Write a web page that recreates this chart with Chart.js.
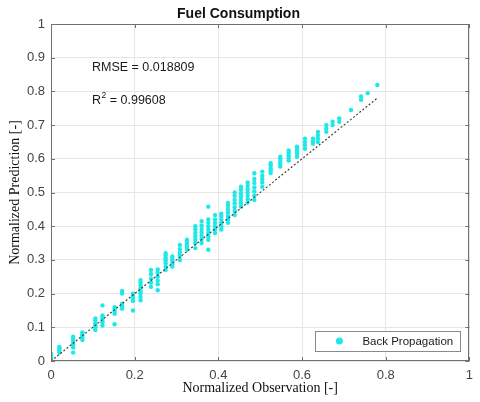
<!DOCTYPE html>
<html><head><meta charset="utf-8">
<script src="https://cdn.jsdelivr.net/npm/chart.js@4.4.0/dist/chart.umd.min.js"></script>
<style>html,body{margin:0;padding:0;background:#fff}#wrap{width:480px;height:402px;position:relative}</style>
</head><body><div id="wrap"><canvas id="c"></canvas></div>
<script>
const chartTitle = 'Fuel Consumption';
const xLabel = 'Normalized Observation [-]';
const yLabel = 'Normalized Prediction [-]';
const seriesName = 'Back Propagation';
const rmseText = 'RMSE = 0.018809';
const r2Value = '0.99608';

// observation columns (x) and predictions in each column (y)
const observed = [0.000,0.020,0.053,0.075,0.106,0.123,0.152,0.170,0.196,0.214,0.239,0.255,0.274,0.290,0.308,0.325,0.345,0.360,0.376,0.392,0.407,0.423,0.439,0.454,0.470,0.486,0.505,0.525,0.548,0.568,0.588,0.607,0.626,0.638,0.658,0.673,0.689,0.717,0.741,0.757,0.780];
const predicted = [
  [0.004,0.010,0.016,0.022],
  [0.025,0.032,0.038,0.042],
  [0.025,0.040,0.050,0.058,0.066,0.072],
  [0.062,0.068,0.074,0.080,0.085],
  [0.092,0.100,0.106,0.112,0.120,0.126],
  [0.105,0.115,0.122,0.130,0.135,0.165],
  [0.109,0.140,0.148,0.155,0.160],
  [0.155,0.162,0.170,0.200,0.208],
  [0.150,0.178,0.186,0.193,0.200],
  [0.180,0.190,0.200,0.208,0.216,0.225,0.232,0.240],
  [0.220,0.232,0.245,0.258,0.270],
  [0.210,0.228,0.238,0.250,0.262,0.272],
  [0.270,0.280,0.290,0.298,0.305,0.313,0.320],
  [0.280,0.288,0.296,0.303,0.310],
  [0.300,0.312,0.322,0.332,0.344],
  [0.330,0.338,0.346,0.354,0.360],
  [0.335,0.350,0.360,0.370,0.380,0.390,0.400],
  [0.350,0.362,0.372,0.382,0.392,0.402,0.415],
  [0.330,0.360,0.370,0.380,0.390,0.400,0.410,0.420,0.458],
  [0.380,0.390,0.400,0.410,0.420,0.433],
  [0.390,0.400,0.410,0.420,0.430,0.437],
  [0.410,0.420,0.430,0.440,0.450,0.460,0.469],
  [0.433,0.445,0.456,0.467,0.478,0.490,0.500],
  [0.458,0.468,0.478,0.488,0.498,0.508,0.517],
  [0.470,0.480,0.490,0.500,0.510,0.520,0.530],
  [0.478,0.490,0.503,0.515,0.528,0.540,0.557],
  [0.517,0.530,0.540,0.550,0.562],
  [0.558,0.565,0.572,0.580,0.587],
  [0.577,0.585,0.592,0.600,0.606],
  [0.595,0.603,0.610,0.618,0.625],
  [0.606,0.615,0.624,0.632,0.636],
  [0.630,0.640,0.650,0.660],
  [0.645,0.652,0.660],
  [0.650,0.660,0.670,0.680],
  [0.680,0.690,0.700],
  [0.700,0.710],
  [0.710,0.720],
  [0.745],
  [0.775,0.785],
  [0.795],
  [0.819]
];
const refLineX = [0, 0.78];
const xTickValues = [0, 0.2, 0.4, 0.6, 0.8, 1];
const yTickValues = [0, 0.1, 0.2, 0.3, 0.4, 0.5, 0.6, 0.7, 0.8, 0.9, 1];

const points = [];
observed.forEach((x, i) => predicted[i].forEach(y => points.push({x, y})));
const refLine = refLineX.map(v => ({x: v, y: v}));

const cyan = '#1ee8e8';
const axisColor = '#707070';
const sans = '"Liberation Sans", Arial, sans-serif';
const serif = '"Liberation Serif", "Times New Roman", serif';

const overlay = {
  id: 'overlay',
  afterDatasetsDraw(chart) {
    const {ctx, chartArea: a, scales: {x, y}} = chart;
    ctx.save();
    ctx.strokeStyle = axisColor;
    ctx.lineWidth = 1;
    ctx.beginPath();
    const tl = 4;
    xTickValues.forEach(v => {
      const px = Math.round(x.getPixelForValue(v)) + 0.5;
      ctx.moveTo(px, a.bottom); ctx.lineTo(px, a.bottom - tl);
      ctx.moveTo(px, a.top); ctx.lineTo(px, a.top + tl);
    });
    yTickValues.forEach(v => {
      const py = Math.round(y.getPixelForValue(v)) + 0.5;
      ctx.moveTo(a.left, py); ctx.lineTo(a.left + tl, py);
      ctx.moveTo(a.right, py); ctx.lineTo(a.right - tl, py);
    });
    ctx.stroke();
    ctx.strokeRect(Math.round(a.left) + 0.5, Math.round(a.top) + 0.5,
      Math.round(a.right - a.left) - 1, Math.round(a.bottom - a.top) - 1);

    // annotations
    ctx.fillStyle = '#1a1a1a';
    ctx.textBaseline = 'middle';
    ctx.textAlign = 'left';
    ctx.font = '12.5px ' + sans;
    const tx = x.getPixelForValue(0.098);
    ctx.fillText(rmseText, tx, y.getPixelForValue(0.872));
    const ry = y.getPixelForValue(0.774);
    ctx.fillText('R', tx, ry);
    const rw = ctx.measureText('R').width;
    ctx.font = '8.5px ' + sans;
    ctx.fillText('2', tx + rw + 0.5, ry - 5);
    const sw = ctx.measureText('2').width;
    ctx.font = '12.5px ' + sans;
    ctx.fillText(' = ' + r2Value, tx + rw + sw + 0.5, ry);

    // legend
    const lx1 = a.right - 154, lx2 = a.right - 9, ly1 = a.bottom - 30, ly2 = a.bottom - 10;
    ctx.fillStyle = '#ffffff';
    ctx.fillRect(lx1, ly1, lx2 - lx1, ly2 - ly1);
    ctx.strokeStyle = '#8a8a8a';
    ctx.strokeRect(Math.round(lx1) + 0.5, Math.round(ly1) + 0.5, Math.round(lx2 - lx1), Math.round(ly2 - ly1));
    ctx.fillStyle = cyan;
    ctx.beginPath();
    ctx.arc(lx1 + 24, (ly1 + ly2) / 2, 3.5, 0, Math.PI * 2);
    ctx.fill();
    ctx.fillStyle = '#1a1a1a';
    ctx.font = '11.5px ' + sans;
    ctx.fillText(chart.data.datasets[0].label, lx1 + 47, (ly1 + ly2) / 2 + 0.5);
    ctx.restore();
  }
};

new Chart(document.getElementById('c'), {
  type: 'scatter',
  data: {
    datasets: [
      {label: seriesName, data: points, backgroundColor: cyan, borderWidth: 0, pointRadius: 2.2, pointHoverRadius: 2.2, order: 1},
      {type: 'line', label: 'y = x', data: refLine, borderColor: '#404040', borderWidth: 1.2, borderDash: [2, 2], pointRadius: 0, fill: false, order: 0}
    ]
  },
  options: {
    responsive: true,
    maintainAspectRatio: false,
    animation: false,
    events: [],
    layout: {padding: {top: 0, right: 3, left: 0, bottom: 0}},
    plugins: {
      legend: {display: false},
      tooltip: {enabled: false},
      title: {display: true, text: chartTitle, color: '#111', font: {family: sans, size: 14, weight: 'bold'}, padding: {top: 6, bottom: 1.2}}
    },
    scales: {
      x: {
        type: 'linear', min: 0, max: 1,
        afterBuildTicks: s => { s.ticks = xTickValues.map(v => ({value: v})); },
        afterFit: s => { s.height = 41; },
        ticks: {color: '#444', font: {family: sans, size: 13}, padding: 7, maxRotation: 0,
          callback: v => String(Number(v.toFixed(1)))},
        grid: {color: '#e6e6e6', drawTicks: false},
        border: {display: false},
        title: {display: true, text: xLabel, color: '#111', font: {family: serif, size: 14}, padding: {top: 0, bottom: 5.6}}
      },
      y: {
        type: 'linear', min: 0, max: 1,
        afterBuildTicks: s => { s.ticks = yTickValues.map(v => ({value: v})); },
        afterFit: s => { s.width = 51; },
        ticks: {color: '#444', font: {family: sans, size: 13}, padding: 6,
          callback: v => String(Number(v.toFixed(1)))},
        grid: {color: '#e6e6e6', drawTicks: false},
        border: {display: false},
        title: {display: true, text: yLabel, color: '#111', font: {family: serif, size: 14}, padding: {top: 6.6, bottom: 0}}
      }
    }
  },
  plugins: [overlay]
});
</script></body></html>
